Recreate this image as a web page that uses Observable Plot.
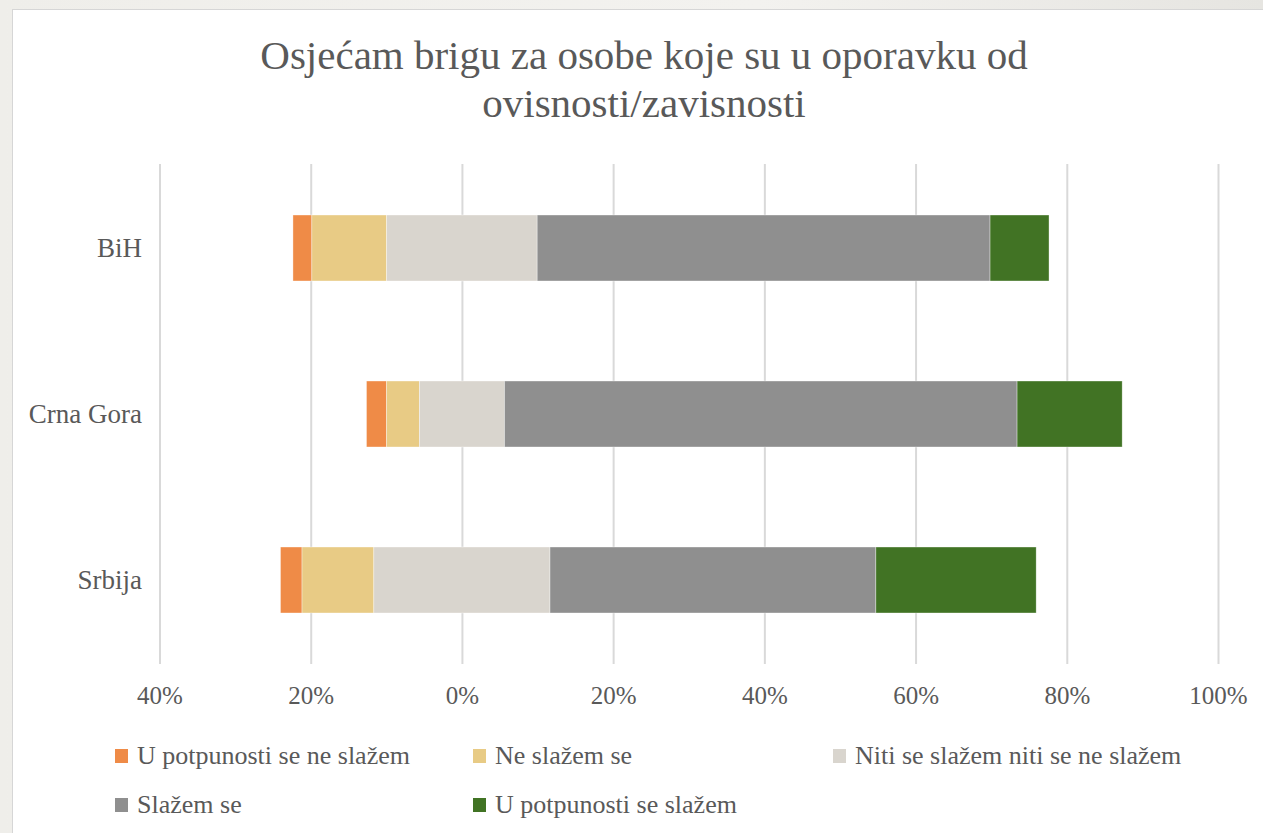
<!DOCTYPE html>
<html>
<head>
<meta charset="utf-8">
<script src="https://cdn.jsdelivr.net/npm/d3@7"></script>
<script src="https://cdn.jsdelivr.net/npm/@observablehq/plot@0.6"></script>
<style>
  html, body { margin: 0; padding: 0; }
  body {
    width: 1263px; height: 833px; overflow: hidden; position: relative;
    background: linear-gradient(90deg, #efeeea 0%, #f3f2ef 60%, #e6e5e1 100%);
    font-family: "Liberation Serif", "DejaVu Serif", serif;
    color: #595959;
  }
  #panel {
    position: absolute; left: 12px; top: 9px; width: 1270px; height: 840px;
    background: #fff; border: 1px solid #d6d6d6; box-sizing: border-box;
  }
  #title {
    position: absolute; left: 0; top: 31px; width: 1288px; text-align: center;
    font-size: 41px; line-height: 48px; color: #595959;
  }
  #chart { position: absolute; left: 14px; top: 130px; }
  #legend {
    position: absolute; left: 115px; top: 738px;
    display: grid; grid-template-columns: 358px 360px auto; row-gap: 13px;
    font-size: 26px; line-height: 36px; color: #595959;
  }
  .item { display: flex; align-items: center; white-space: nowrap; }
  .sw { width: 13px; height: 14px; margin-right: 9px; flex: none; }
</style>
</head>
<body>
<div id="panel"></div>
<div id="title">Osjećam brigu za osobe koje su u oporavku od<br>ovisnosti/zavisnosti</div>
<div id="chart"></div>
<div id="legend"></div>
<script>
const countries = ["BiH", "Crna Gora", "Srbija"];
const categories = [
  "U potpunosti se ne slažem",
  "Ne slažem se",
  "Niti se slažem niti se ne slažem",
  "Slažem se",
  "U potpunosti se slažem"
];
const colors = ["#ef8b47", "#e8cb85", "#d9d5ce", "#8f8f8f", "#417324"];
const stronglyDisagree = [2.5, 2.65, 2.85];
const disagree = [9.9, 4.35, 9.5];
const neutral = [19.9, 11.25, 23.3];
const agree = [59.9, 67.8, 43.1];
const stronglyAgree = [7.8, 13.9, 21.2];
const xTicks = [-40, -20, 0, 20, 40, 60, 80, 100];

const series = [stronglyDisagree, disagree, neutral, agree, stronglyAgree];
const rows = [];
countries.forEach((c, i) => {
  let start = -(stronglyDisagree[i] + disagree[i] + neutral[i] / 2);
  series.forEach((s, k) => {
    rows.push({country: c, category: categories[k], x1: start, x2: start + s[i]});
    start += s[i];
  });
});

const chart = Plot.plot({
  width: 1249,
  height: 594,
  marginLeft: 145.5,
  marginRight: 45,
  marginTop: 34,
  marginBottom: 60,
  style: {fontFamily: '"Liberation Serif", serif', fontSize: "25px", color: "#595959", background: "transparent"},
  x: {domain: [-40, 100], ticks: xTicks},
  y: {domain: countries, paddingInner: 0.6, paddingOuter: 0.3},
  color: {domain: categories, range: colors},
  marks: [
    Plot.ruleX(xTicks, {stroke: "#d9d9d9", strokeWidth: 2}),
    Plot.barX(rows, {y: "country", x1: "x1", x2: "x2", fill: "category", stroke: "#ffffff", strokeWidth: 0.6, strokeOpacity: 0.6}),
    Plot.axisX({ticks: xTicks, tickSize: 0, tickPadding: 22, tickFormat: d => Math.abs(d) + "%", fill: "#595959", fontSize: 25}),
    Plot.axisY({tickSize: 0, tickPadding: 18, fill: "#595959", fontSize: 27, label: null})
  ]
});
chart.querySelectorAll("[aria-label='x-axis label'], [aria-label='y-axis label']").forEach(n => n.remove());
document.getElementById("chart").appendChild(chart);

const legend = document.getElementById("legend");
categories.forEach((c, k) => {
  const it = document.createElement("div");
  it.className = "item";
  const sw = document.createElement("span");
  sw.className = "sw";
  sw.style.background = colors[k];
  const tx = document.createElement("span");
  tx.textContent = c;
  it.appendChild(sw); it.appendChild(tx);
  legend.appendChild(it);
});
</script>
</body>
</html>
